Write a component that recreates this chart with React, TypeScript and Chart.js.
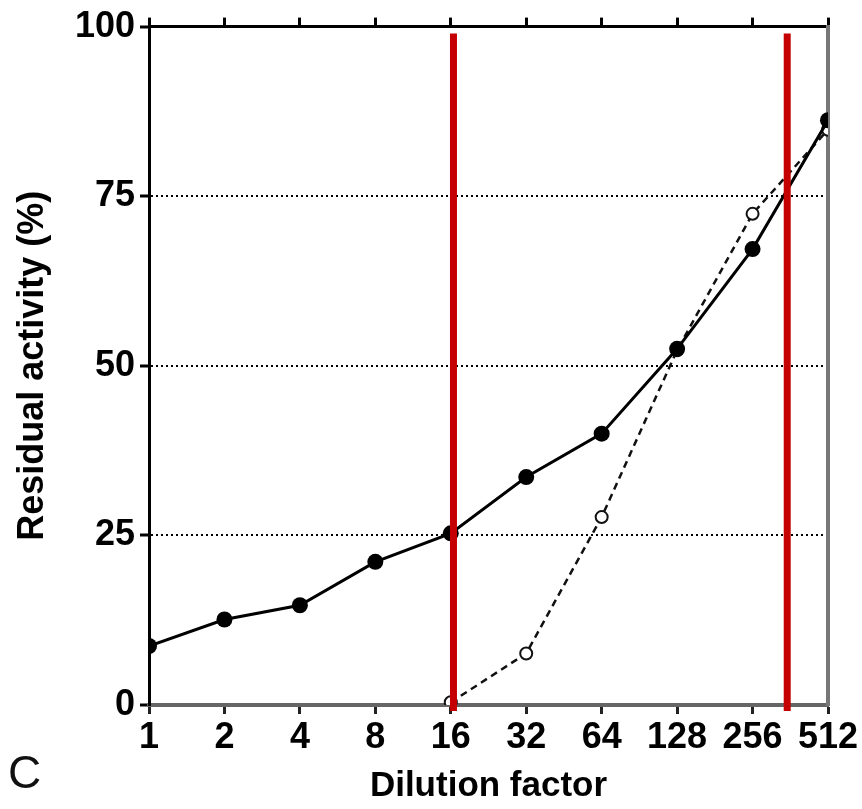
import React, { useEffect, useRef } from "react";
import { Chart, registerables } from "chart.js";

Chart.register(...registerables);

const dilutions = [1, 2, 4, 8, 16, 32, 64, 128, 256, 512];
const filledValues = [8.7, 12.6, 14.7, 21.1, 25.3, 33.6, 40.0, 52.5, 67.2, 86.2];
const openValues: (number | null)[] = [null, null, null, null, 0.4, 7.6, 27.7, 52.3, 72.4, 84.8];
const yTicks = [0, 25, 50, 75, 100];
const gridValues = [25, 50, 75];
const redLineLeftX = 16.4;
const redLineRightX = 352;
const redLineYRange = [-0.9, 99];

const FONT = "'Liberation Sans', Arial, Helvetica, sans-serif";

export default function App() {
  const ref = useRef<HTMLCanvasElement | null>(null);

  useEffect(() => {
    if (!ref.current) return;
    const toPoints = (vals: (number | null)[]) =>
      dilutions
        .map((d, i) => ({ x: d, y: vals[i] }))
        .filter((p) => p.y !== null) as { x: number; y: number }[];

    const redLine = (x: number) => ({
      type: "line" as const,
      data: redLineYRange.map((y) => ({ x, y })),
      borderColor: "#c40000",
      borderWidth: 7,
      pointRadius: 0,
      clip: false as any,
      order: 0,
    });

    const chart = new Chart(ref.current, {
      type: "line",
      data: {
        datasets: [
          redLine(redLineLeftX),
          redLine(redLineRightX),
          {
            data: toPoints(filledValues),
            borderColor: "#000",
            borderWidth: 3,
            pointRadius: 8,
            pointBorderWidth: 0,
            pointBackgroundColor: "#000",
            pointBorderColor: "#000",
            order: 1,
          },
          {
            data: toPoints(openValues),
            borderColor: "#111",
            borderWidth: 2.5,
            borderDash: [7, 5],
            pointRadius: 6,
            pointBorderWidth: 2,
            pointBackgroundColor: "#fff",
            pointBorderColor: "#111",
            order: 2,
          },
        ],
      },
      options: {
        animation: false,
        responsive: false,
        events: [],
        layout: { padding: 0 },
        plugins: { legend: { display: false }, tooltip: { enabled: false } },
        scales: {
          x: {
            type: "logarithmic",
            position: "bottom",
            min: 1,
            max: 512,
            afterBuildTicks: (s: any) => {
              s.ticks = dilutions.map((v) => ({ value: v }));
            },
            afterFit: (s: any) => {
              s.height = 104;
            },
            ticks: {
              callback: (v: any) => String(v),
              font: { family: FONT, size: 36, weight: "bold" },
              color: "#000",
              padding: 2,
              maxRotation: 0,
              autoSkip: false,
            },
            grid: {
              drawOnChartArea: false,
              tickLength: 9,
              tickWidth: 3,
              tickColor: "#222",
            },
            border: { color: "#666", width: 4 },
            title: {
              display: true,
              text: "Dilution factor",
              font: { family: FONT, size: 35, weight: "bold" },
              color: "#000",
              padding: { top: 0, bottom: 2 },
            },
          },
          x2: {
            type: "logarithmic",
            position: "top",
            min: 1,
            max: 512,
            afterBuildTicks: (s: any) => {
              s.ticks = dilutions.map((v) => ({ value: v }));
            },
            afterFit: (s: any) => {
              s.height = 24;
            },
            ticks: { display: false },
            grid: {
              drawOnChartArea: false,
              tickLength: 9,
              tickWidth: 3,
              tickColor: "#000",
            },
            border: { color: "#000", width: 3 },
          },
          y: {
            type: "linear",
            position: "left",
            min: 0,
            max: 100,
            afterBuildTicks: (s: any) => {
              s.ticks = yTicks.map((v) => ({ value: v }));
            },
            afterFit: (s: any) => {
              s.width = 149;
            },
            ticks: {
              font: { family: FONT, size: 36, weight: "bold" },
              color: "#000",
              padding: 5,
            },
            grid: {
              color: (ctx: any) =>
                gridValues.includes(ctx.tick?.value) ? "#000" : "rgba(0,0,0,0)",
              lineWidth: 2,
              tickLength: 9,
              tickWidth: 3,
              tickColor: "#000",
            },
            border: { color: "#000", width: 3, dash: [2, 3] },
            title: {
              display: true,
              text: "Residual activity (%)",
              font: { family: FONT, size: 36, weight: "bold" },
              color: "#000",
              padding: { top: 11, bottom: 0 },
            },
          },
          y2: {
            type: "linear",
            position: "right",
            min: 0,
            max: 100,
            afterFit: (s: any) => {
              s.width = 34;
            },
            ticks: { display: false },
            grid: { display: false, drawTicks: false },
            border: { color: "#777", width: 4 },
          },
        },
      },
    } as any);
    return () => chart.destroy();
  }, []);

  return (
    <div style={{ position: "absolute", left: 0, top: 0, width: 862, height: 809, background: "#fff" }}>
      <canvas ref={ref} width={862} height={809} style={{ display: "block" }} />
      <div
        style={{
          position: "absolute",
          left: 8,
          top: 746,
          fontFamily: FONT,
          fontSize: 46,
          lineHeight: "52px",
          color: "#111",
        }}
      >
        C
      </div>
    </div>
  );
}
